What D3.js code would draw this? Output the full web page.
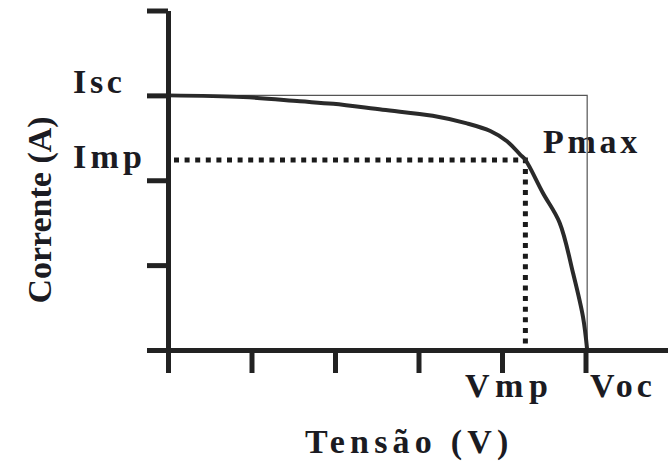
<!DOCTYPE html>
<html>
<head>
<meta charset="utf-8">
<script src="https://cdn.jsdelivr.net/npm/d3@7"></script>
</head>
<body style="margin:0">
<div id="chart"></div>
<script>
// I-V curve of a PV cell (arbitrary units)
var voltage = [0, 0.9, 1.58, 1.98, 2.57, 3.17, 3.58, 3.86, 4.06, 4.22, 4.28, 4.49, 4.69, 4.85, 4.97, 5.02];
var current = [3.0, 2.98, 2.93, 2.90, 2.83, 2.76, 2.67, 2.58, 2.46, 2.30, 2.24, 1.85, 1.50, 0.91, 0.39, 0];

var xTicks = [0, 1, 2, 3, 4, 5];
var xTickLabels = ["", "", "", "", "Vmp", "Voc"];
var yTicks = [0, 1, 2, 3, 4];

var Isc = 3.0;
var Imp = 2.24;
var Vmp = 4.28;
var Voc = 5.02;

var width = 668, height = 461;
var ink = "#1b1b22";
var serif = "Liberation Serif";

var svg = d3.select("#chart")
    .append("svg")
    .attr("width", width)
    .attr("height", height);

var x = d3.scaleLinear().domain([0, 6]).range([168, 669]);
var y = d3.scaleLinear().domain([0, 4]).range([350, 10.5]);

// texts go first, marks are drawn afterwards
var texts = svg.append("g");
var marks = svg.append("g");

// spacing done with dx, letter-spacing swaps the font here
function label(str, gap) {
    var dx = [0];
    for (var i = 1; i < str.length; i++) dx.push(gap);
    return texts.append("text")
        .attr("font-family", serif)
        .attr("font-weight", "bold")
        .attr("font-size", 34)
        .attr("fill", ink)
        .attr("dx", gap ? dx.join(" ") : null)
        .text(str);
}

xTicks.forEach(function (d, i) {
    if (!xTickLabels[i]) return;
    label(xTickLabels[i], d === 5 ? 4.2 : 5.5)
        .attr("x", x(d) + (d === 5 ? 4.5 : -37))
        .attr("y", y(0) + 47);
});

label("Isc", 3.7).attr("x", 73).attr("y", y(Isc) - 2);
label("Imp", 4.2).attr("x", 73).attr("y", y(Imp) + 8);
label("Pmax", 3.7).attr("x", 543).attr("y", 153);

label("Corrente (A)", 0)
    .attr("transform", "translate(51,210) rotate(-90)")
    .attr("text-anchor", "middle");

label("Tensão (V)", 5.2).attr("x", 305).attr("y", 453);

// thin box Isc / Voc
marks.append("path")
    .attr("d", "M" + x(0) + "," + y(Isc) + "H" + x(Voc) + "V" + y(0))
    .attr("fill", "none")
    .attr("stroke", "#555")
    .attr("stroke-width", 1.2);

// dotted lines to Pmax
marks.append("path")
    .attr("d", "M" + (x(0) + 6) + "," + y(Imp) + "H" + x(Vmp) + "V" + y(0))
    .attr("fill", "none")
    .attr("stroke", "#1a1a1a")
    .attr("stroke-width", 5)
    .attr("stroke-dasharray", "5,5.6");

// the curve
var pts = voltage.map(function (v, i) { return [v, current[i]]; });
var line = d3.line()
    .x(function (d) { return x(d[0]); })
    .y(function (d) { return y(d[1]); })
    .curve(d3.curveCatmullRom.alpha(0.5));

marks.append("path")
    .datum(pts)
    .attr("d", line)
    .attr("fill", "none")
    .attr("stroke", "#2a2a2a")
    .attr("stroke-width", 4);

// axes
var yAxis = marks.append("g")
    .attr("transform", "translate(" + x(0) + ",0)")
    .call(d3.axisLeft(y).tickValues(yTicks).tickSize(21).tickSizeOuter(0).tickFormat(""));

var xAxis = marks.append("g")
    .attr("transform", "translate(0," + y(0) + ")")
    .call(d3.axisBottom(x).tickValues(xTicks).tickSize(23).tickSizeOuter(0).tickFormat(""));

[yAxis, xAxis].forEach(function (g) {
    g.select(".domain").attr("stroke", "#222").attr("stroke-width", 5);
    g.selectAll(".tick line").attr("stroke", "#222").attr("stroke-width", 5);
});
</script>
</body>
</html>
